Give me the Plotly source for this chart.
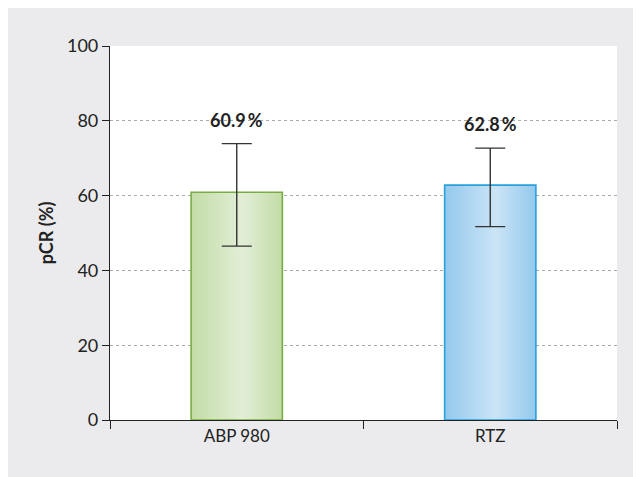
import plotly.graph_objects as go

categories = ["ABP 980", "RTZ"]
values = [60.9, 62.8]
err_upper = [73.9, 72.7]
err_lower = [46.5, 51.7]
labels = ["60.9\u2009%", "62.8\u2009%"]
y_ticks = [0, 20, 40, 60, 80, 100]

edge_colors = ["#c2dca6", "#94c9ed"]
mid_colors = ["#e2eed7", "#cae4f6"]
line_colors = ["#78ac44", "#27a0dc"]

BAR_W = 0.36
GRAY = "#ebebed"
FONT = "Lato"

fig = go.Figure()

xs = list(range(len(categories)))
for i, (x, v) in enumerate(zip(xs, values)):
    x0, x1 = x - BAR_W / 2, x + BAR_W / 2
    fig.add_trace(go.Scatter(
        x=[x0, x1, x1, x0, x0], y=[0, 0, v, v, 0],
        mode="lines", fill="toself",
        line=dict(color=line_colors[i], width=1.6),
        fillgradient=dict(type="horizontal",
                          colorscale=[[0, edge_colors[i]], [0.56, mid_colors[i]], [1, edge_colors[i]]]),
        hoverinfo="skip", showlegend=False,
    ))

fig.add_trace(go.Scatter(
    x=xs, y=values, mode="markers",
    marker=dict(size=1, color="rgba(0,0,0,0)"),
    error_y=dict(type="data", symmetric=False,
                 array=[u - v for u, v in zip(err_upper, values)],
                 arrayminus=[v - l for v, l in zip(values, err_lower)],
                 color="#333333", thickness=1.4, width=15),
    showlegend=False, hoverinfo="skip",
))

for x, u, t in zip(xs, err_upper, labels):
    fig.add_annotation(x=x, y=u, text="<b>" + t + "</b>", showarrow=False,
                       yanchor="bottom", yshift=11,
                       font=dict(family=FONT, size=18, color="#222222"))

fig.update_layout(
    width=633, height=469,
    margin=dict(l=102, r=24, t=38, b=57),
    paper_bgcolor=GRAY, plot_bgcolor="white",
    font=dict(family=FONT, size=16, color="#222222"),
    xaxis=dict(
        range=[-0.5, 1.5], tickvals=xs, ticktext=categories,
        ticks="", showgrid=False, zeroline=False,
        showline=True, linecolor="#222222", linewidth=1.2,
        tickfont=dict(family=FONT, size=17, color="#222222"),
        minor=dict(tick0=-0.5, dtick=1, ticks="outside", ticklen=8,
                   tickcolor="#222222", tickwidth=1.2, showgrid=False),
        fixedrange=True,
    ),
    yaxis=dict(
        range=[0, 100], tickvals=y_ticks, ticks="outside", ticklen=7,
        tickcolor="#222222", tickwidth=1.2,
        showline=True, linecolor="#222222", linewidth=1.2,
        showgrid=True, gridcolor="#ababab", griddash="dot", gridwidth=1,
        zeroline=False,
        title=dict(text="<b>pCR (%)</b>", font=dict(family=FONT, size=18, color="#222222"), standoff=8),
        tickfont=dict(family=FONT, size=18, color="#222222"),
        fixedrange=True,
    ),
)

fig.write_html("out.html")
